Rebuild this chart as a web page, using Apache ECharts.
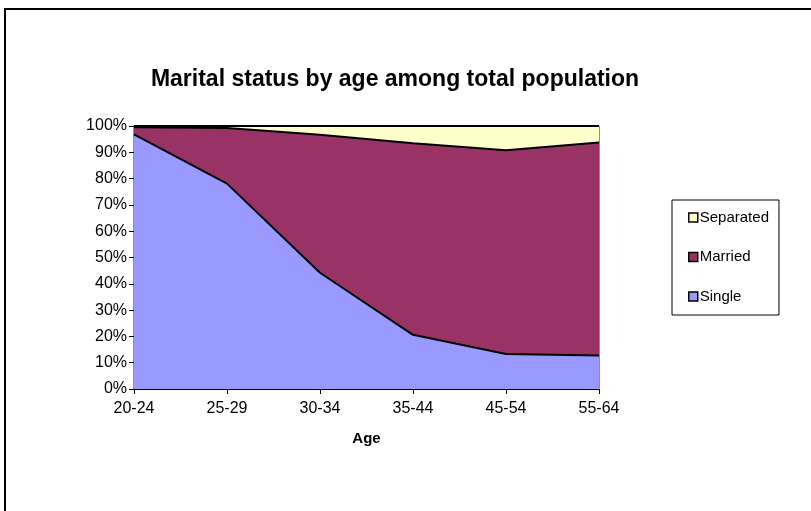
<!DOCTYPE html>
<html>
<head>
<meta charset="utf-8">
<script src="https://cdn.jsdelivr.net/npm/echarts@6/dist/echarts.min.js"></script>
<style>
html,body{margin:0;padding:0;background:#fff;}
#chart{width:811px;height:511px;}
</style>
</head>
<body>
<div id="chart"></div>
<script>
const titleText = 'Marital status by age among total population';
const categories = ['20-24', '25-29', '30-34', '35-44', '45-54', '55-64'];
const single = [96.8, 78.1, 44.2, 20.6, 13.3, 12.7];
const married = [2.7, 21.1, 52.5, 72.8, 77.5, 81.0];
const separated = [0.5, 0.8, 3.3, 6.6, 9.2, 6.3];
const legendOrder = ['Separated', 'Married', 'Single'];

const font = 'Liberation Sans, Arial, sans-serif';
const chart = echarts.init(document.getElementById('chart'), null, {renderer: 'canvas'});

function areaSeries(name, data, color) {
  return {
    name: name,
    type: 'line',
    stack: 'total',
    data: data,
    showSymbol: false,
    symbol: 'none',
    lineStyle: {color: '#000', width: 2},
    areaStyle: {color: color, opacity: 1},
    itemStyle: {color: color, borderColor: '#000', borderWidth: 1.5},
    emphasis: {disabled: true},
    animation: false
  };
}

chart.setOption({
  animation: false,
  backgroundColor: '#fff',
  title: {
    text: titleText,
    left: 390,
    textAlign: 'center',
    top: 63,
    textStyle: {fontFamily: font, fontSize: 23, fontWeight: 'bold', color: '#000'}
  },
  grid: {
    left: 134, right: 212, top: 126, bottom: 122,
    show: true, borderColor: '#222', borderWidth: 1, backgroundColor: 'transparent'
  },
  legend: {
    orient: 'vertical',
    left: 672,
    top: 200,
    data: legendOrder,
    icon: 'rect',
    itemWidth: 9,
    itemHeight: 9,
    itemGap: 24.5,
    padding: [10, 10, 11, 16],
    borderColor: '#000',
    borderWidth: 1,
    borderRadius: 0,
    itemStyle: {borderColor: '#000', borderWidth: 1.5},
    textStyle: {fontFamily: font, fontSize: 15, color: '#000', padding: [0, 0, 0, -3]}
  },
  xAxis: {
    type: 'category',
    data: categories,
    boundaryGap: false,
    name: 'Age',
    nameLocation: 'middle',
    nameGap: 42,
    nameTextStyle: {fontFamily: font, fontSize: 15, fontWeight: 'bold', color: '#000'},
    axisLine: {lineStyle: {color: '#000', width: 1}},
    axisTick: {show: true, alignWithLabel: true, length: 5, lineStyle: {color: '#000'}},
    axisLabel: {fontFamily: font, fontSize: 16, color: '#000', margin: 12},
    splitLine: {show: false}
  },
  yAxis: {
    type: 'value',
    min: 0,
    max: 100,
    interval: 10,
    axisLine: {show: true, lineStyle: {color: '#000', width: 1}},
    axisTick: {show: true, length: 5, lineStyle: {color: '#000'}},
    axisLabel: {fontFamily: font, fontSize: 16, color: '#000', formatter: '{value}%', margin: 7},
    splitLine: {show: false}
  },
  series: [
    areaSeries('Single', single, '#9999FF'),
    areaSeries('Married', married, '#993366'),
    areaSeries('Separated', separated, '#FFFFCC')
  ],
  graphic: [
    {
      type: 'rect',
      shape: {x: 5, y: 9, width: 900, height: 600},
      style: {fill: 'none', stroke: '#000', lineWidth: 2},
      silent: true
    }
  ]
});
</script>
</body>
</html>
